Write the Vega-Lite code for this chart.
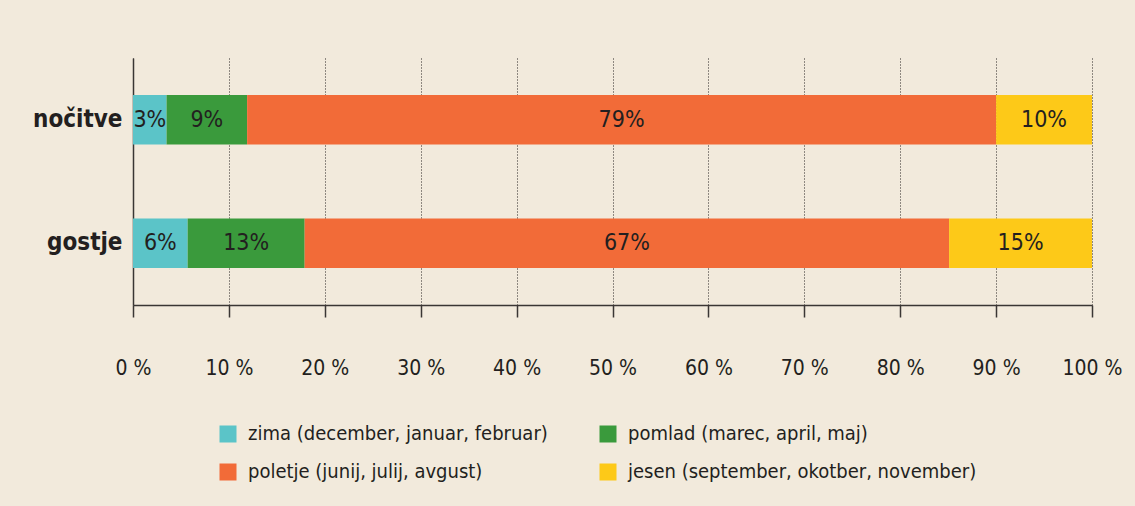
{
  "$schema": "https://vega.github.io/schema/vega-lite/v6.json",
  "width": 959,
  "height": 247,
  "autosize": {"type": "none"},
  "padding": {"left": 133, "top": 58, "right": 43, "bottom": 201},
  "background": "#f2eadc",
  "config": {
    "view": {"stroke": null},
    "font": "DejaVu Sans Condensed",
    "text": {"font": "DejaVu Sans Condensed"}
  },
  "data": {
    "values": [
      {"kategorija": "nočitve", "sezona": "zima (december, januar, februar)", "idx": 1, "delez": 3.5, "oznaka": "3%"},
      {"kategorija": "nočitve", "sezona": "pomlad (marec, april, maj)", "idx": 2, "delez": 8.4, "oznaka": "9%"},
      {"kategorija": "nočitve", "sezona": "poletje (junij, julij, avgust)", "idx": 3, "delez": 78.1, "oznaka": "79%"},
      {"kategorija": "nočitve", "sezona": "jesen (september, okotber, november)", "idx": 4, "delez": 10.0, "oznaka": "10%"},
      {"kategorija": "gostje", "sezona": "zima (december, januar, februar)", "idx": 1, "delez": 5.7, "oznaka": "6%"},
      {"kategorija": "gostje", "sezona": "pomlad (marec, april, maj)", "idx": 2, "delez": 12.2, "oznaka": "13%"},
      {"kategorija": "gostje", "sezona": "poletje (junij, julij, avgust)", "idx": 3, "delez": 67.2, "oznaka": "67%"},
      {"kategorija": "gostje", "sezona": "jesen (september, okotber, november)", "idx": 4, "delez": 14.9, "oznaka": "15%"}
    ]
  },
  "transform": [
    {"stack": "delez", "groupby": ["kategorija"], "sort": [{"field": "idx", "order": "ascending"}], "as": ["zacetek", "konec"]}
  ],
  "encoding": {
    "y": {
      "field": "kategorija",
      "type": "nominal",
      "sort": ["nočitve", "gostje"],
      "scale": {"paddingInner": 0.6, "paddingOuter": 0.3},
      "axis": {
        "title": null,
        "ticks": false,
        "domain": true,
        "domainColor": "#3a3634",
        "domainWidth": 1.5,
        "labelFont": "DejaVu Sans Condensed",
        "labelFontWeight": "bold",
        "labelFontSize": 24,
        "labelColor": "#231f20",
        "labelPadding": 11
      }
    }
  },
  "layer": [
    {
      "mark": {"type": "bar"},
      "encoding": {
        "x": {
          "field": "zacetek",
          "type": "quantitative",
          "scale": {"domain": [0, 100], "nice": false},
          "axis": {
            "title": null,
            "values": [0, 10, 20, 30, 40, 50, 60, 70, 80, 90, 100],
            "labelExpr": "datum.value + ' %'",
            "grid": true,
            "gridDash": [1, 2],
            "gridColor": "#2a2624",
            "gridWidth": 1,
            "domainColor": "#3a3634",
            "domainWidth": 1.5,
            "tickColor": "#3a3634",
            "tickWidth": 1.5,
            "tickSize": 12,
            "labelFont": "DejaVu Sans Condensed",
            "labelFontSize": 21,
            "labelColor": "#231f20",
            "labelPadding": 40,
            "labelFlush": false
          }
        },
        "x2": {"field": "konec"},
        "color": {
          "field": "sezona",
          "type": "nominal",
          "sort": ["zima (december, januar, februar)", "pomlad (marec, april, maj)", "poletje (junij, julij, avgust)", "jesen (september, okotber, november)"],
          "scale": {
            "domain": ["zima (december, januar, februar)", "pomlad (marec, april, maj)", "poletje (junij, julij, avgust)", "jesen (september, okotber, november)"],
            "range": ["#5bc4c8", "#3a9a3c", "#f26b38", "#fdc918"]
          },
          "legend": {
            "title": null,
            "orient": "none",
            "legendX": 85,
            "legendY": 366,
            "direction": "horizontal",
            "columns": 2,
            "columnPadding": 50,
            "rowPadding": 18,
            "symbolType": "square",
            "symbolSize": 289,
            "symbolStrokeWidth": 0,
            "symbolOpacity": 1,
            "labelFont": "DejaVu Sans Condensed",
            "labelFontSize": 20,
            "labelColor": "#231f20",
            "labelLimit": 0,
            "labelOffset": 10
          }
        }
      }
    },
    {
      "transform": [
        {"fold": ["zacetek", "konec"], "as": ["meja", "polozaj"]}
      ],
      "mark": {"type": "text", "fontSize": 23, "color": "#231f20", "align": "center", "baseline": "middle"},
      "encoding": {
        "x": {"field": "polozaj", "type": "quantitative", "aggregate": "mean"},
        "text": {"field": "oznaka", "type": "nominal"}
      }
    }
  ]
}
